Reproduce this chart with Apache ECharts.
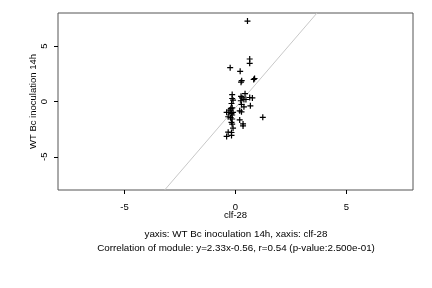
<!DOCTYPE html>
<html><head><meta charset="utf-8">
<script src="https://cdn.jsdelivr.net/npm/echarts@6/dist/echarts.min.js"></script>
<style>html,body{margin:0;padding:0;background:#fff}#c{width:432px;height:288px}</style>
</head><body><div id="c"></div>
<script>
const xVals = [0.54,0.64,0.64,-0.24,0.21,0.86,0.82,0.28,0.25,-0.15,-0.15,0.43,0.25,0.29,0.38,0.47,0.64,0.76,-0.11,0.24,-0.18,0.27,0.38,0.67,-0.15,-0.21,0.19,0.27,-0.40,-0.30,-0.18,-0.11,-0.33,-0.22,-0.15,1.23,0.19,-0.18,-0.15,0.34,0.34,-0.11,-0.33,-0.18,-0.40,-0.18,-0.24,-0.15];
const yVals = [7.27,3.84,3.45,3.06,2.73,2.08,1.99,1.88,1.75,0.63,0.27,0.71,0.47,0.32,0.18,0.18,0.36,0.32,0.12,0.07,-0.18,-0.27,-0.48,-0.39,-0.57,-0.63,-0.84,-0.93,-0.98,-0.98,-1.07,-0.98,-1.38,-1.46,-1.58,-1.43,-1.67,-1.88,-2.05,-2.03,-2.21,-2.41,-2.77,-2.80,-3.16,-3.07,-0.78,-1.22];
const fitSlope = [2.33];
const fitIntercept = [-0.56];
const axisRange = [-8, 8];
const tickValues = [-5, 0, 5];
const xName = "clf-28";
const yName = "WT Bc inoculation 14h";
const subtitle1 = "yaxis: WT Bc inoculation 14h, xaxis: clf-28";
const subtitle2 = "Correlation of module: y=2.33x-0.56, r=0.54 (p-value:2.500e-01)";

const pts = xVals.map((x,i)=>[x,yVals[i]]);
const s = fitSlope[0], b = fitIntercept[0];
const lineData = [[(axisRange[0]-b)/s, axisRange[0]], [(axisRange[1]-b)/s, axisRange[1]]];
const font = 'Liberation Sans, Arial, sans-serif';
const fs = 9.5;
const chart = echarts.init(document.getElementById('c'), null, {renderer:'canvas'});
chart.setOption({
  animation:false,
  backgroundColor:'#fff',
  grid:{left:58,right:19,top:13,bottom:98,show:true,borderColor:'#555',borderWidth:1,backgroundColor:'transparent'},
  xAxis:{type:'value',min:axisRange[0],max:axisRange[1],
    splitLine:{show:false},
    axisLine:{show:false,onZero:false},
    axisTick:{show:true,inside:false,length:4,lineStyle:{color:'#000'},customValues:tickValues},
    axisLabel:{show:true,margin:12,fontSize:fs,fontFamily:font,color:'#000',customValues:tickValues},
    name:xName,nameLocation:'middle',nameGap:20,nameMoveOverlap:false,nameTextStyle:{fontSize:fs,fontFamily:font,color:'#000'}},
  yAxis:{type:'value',min:axisRange[0],max:axisRange[1],
    splitLine:{show:false},
    axisLine:{show:false,onZero:false},
    axisTick:{show:true,inside:false,length:4,lineStyle:{color:'#000'},customValues:tickValues},
    axisLabel:{show:true,margin:9,rotate:90,fontSize:fs,fontFamily:font,color:'#000',customValues:tickValues},
    name:yName,nameLocation:'middle',nameGap:20,nameMoveOverlap:false,nameRotate:90,nameTextStyle:{fontSize:fs,fontFamily:font,color:'#000'}},
  title:[
    {text:subtitle1,left:236,top:229,padding:0,textAlign:'center',textStyle:{fontSize:9.8,fontWeight:'normal',fontFamily:font,color:'#000'}},
    {text:subtitle2,left:236,top:243,padding:0,textAlign:'center',textStyle:{fontSize:9.8,fontWeight:'normal',fontFamily:font,color:'#000'}}
  ],
  series:[
    {type:'line',data:lineData,symbol:'none',clip:true,lineStyle:{color:'#c8c8c8',width:1},z:1},
    {type:'scatter',data:pts,symbol:'path://M-0.2,-1H0.2V1H-0.2Z M-1,-0.2H1V0.2H-1Z',symbolSize:6,itemStyle:{color:'#000',opacity:1},z:2}
  ]
});
</script></body></html>
